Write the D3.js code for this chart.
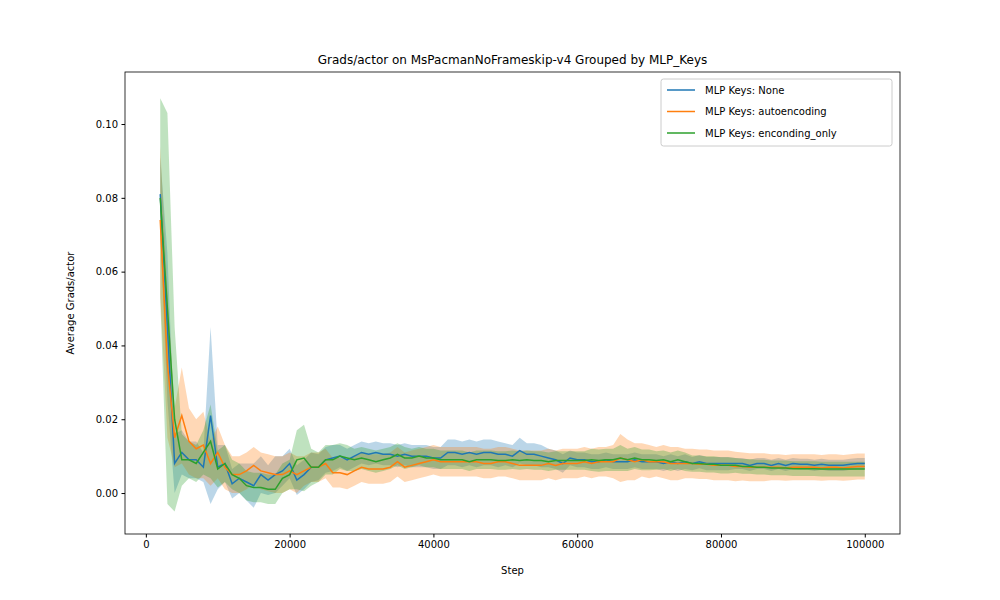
<!DOCTYPE html>
<html><head><meta charset="utf-8">
<script src="https://cdn.jsdelivr.net/npm/d3@7"></script>
<style>body{margin:0;background:#fff;font-family:"DejaVu Sans",sans-serif}</style>
</head><body><svg id="c" width="1000" height="600"></svg>
<script>
var steps = d3.range(2000, 100001, 1000);
var labels = ["MLP Keys: None", "MLP Keys: autoencoding", "MLP Keys: enconding_only"];
var colors = ["#1f77b4", "#ff7f0e", "#2ca02c"];

var meanNone = [0.081,0.045,0.008,0.011,0.009,0.009,0.007,0.021,0.007,0.008,0.0025,0.004,0.003,0.002,0.005,0.0035,0.005,0.006,0.008,0.0035,0.005,0.007,0.007,0.009,0.0095,0.010,0.009,0.010,0.011,0.0105,0.011,0.0105,0.0105,0.0100,0.0105,0.0100,0.0100,0.0100,0.0095,0.0095,0.011,0.011,0.0105,0.011,0.0105,0.011,0.011,0.0105,0.0105,0.010,0.0115,0.0105,0.0105,0.010,0.0095,0.009,0.008,0.0095,0.0090,0.0090,0.0085,0.0085,0.0090,0.0085,0.0085,0.0085,0.0090,0.0085,0.0085,0.0085,0.0080,0.0085,0.0080,0.0085,0.0080,0.0085,0.0080,0.0080,0.0080,0.0080,0.0080,0.0080,0.0075,0.0080,0.0080,0.0075,0.0080,0.0075,0.0080,0.0078,0.0078,0.0075,0.0078,0.0075,0.0075,0.0075,0.0078,0.0080,0.0080];
var meanAuto = [0.074,0.035,0.015,0.021,0.014,0.012,0.013,0.008,0.011,0.007,0.005,0.005,0.006,0.0075,0.006,0.0055,0.005,0.005,0.006,0.005,0.006,0.007,0.007,0.008,0.0055,0.0055,0.005,0.006,0.007,0.0065,0.0065,0.0065,0.007,0.0085,0.007,0.0075,0.008,0.0085,0.009,0.0085,0.0085,0.0085,0.0085,0.0085,0.0085,0.008,0.008,0.0085,0.0085,0.008,0.0075,0.0075,0.0075,0.0075,0.0080,0.0075,0.0080,0.0080,0.0080,0.0085,0.0080,0.0085,0.0085,0.0085,0.0095,0.0090,0.0085,0.0090,0.0085,0.0085,0.0085,0.0080,0.0080,0.0080,0.0080,0.0078,0.0078,0.0075,0.0075,0.0075,0.0072,0.0072,0.0070,0.0070,0.0070,0.0070,0.0070,0.0068,0.0070,0.0070,0.0070,0.0070,0.0068,0.0070,0.0070,0.0068,0.0070,0.0072,0.0072];
var meanEnc = [0.080,0.050,0.020,0.009,0.009,0.008,0.011,0.014,0.0065,0.008,0.005,0.004,0.002,0.0015,0.0015,0.001,0.001,0.004,0.005,0.009,0.0095,0.007,0.007,0.009,0.009,0.010,0.0095,0.009,0.0095,0.009,0.0085,0.0090,0.0095,0.0105,0.0095,0.0095,0.010,0.0095,0.0095,0.0090,0.0090,0.0090,0.0090,0.0085,0.0090,0.0090,0.0090,0.0088,0.0088,0.0090,0.0088,0.0090,0.0088,0.0088,0.0085,0.0088,0.0088,0.0088,0.0088,0.0088,0.0090,0.0088,0.0090,0.0090,0.0095,0.0090,0.0095,0.0090,0.0090,0.0088,0.0090,0.0085,0.0090,0.0085,0.0080,0.0080,0.0078,0.0078,0.0075,0.0075,0.0075,0.0072,0.0072,0.0070,0.0070,0.0068,0.0068,0.0068,0.0066,0.0066,0.0066,0.0066,0.0065,0.0065,0.0065,0.0065,0.0065,0.0065,0.0065];

var sdNone = [0.010,0.020,0.008,0.006,0.005,0.005,0.004,0.024,0.006,0.005,0.004,0.004,0.005,0.006,0.005,0.004,0.005,0.004,0.004,0.004,0.004,0.004,0.0035,0.0035,0.0035,0.003,0.003,0.003,0.003,0.003,0.003,0.003,0.003,0.003,0.003,0.003,0.003,0.003,0.003,0.003,0.0035,0.0035,0.0035,0.0035,0.0035,0.0035,0.0035,0.0035,0.003,0.003,0.0035,0.003,0.003,0.003,0.0025,0.0025,0.0025,0.002,0.002,0.002,0.002,0.002,0.002,0.002,0.002,0.002,0.002,0.002,0.002,0.002,0.002,0.002,0.002,0.002,0.0018,0.0018,0.0018,0.0018,0.0018,0.0018,0.0015,0.0015,0.0015,0.0015,0.0015,0.0015,0.0015,0.0015,0.0015,0.0015,0.0015,0.0015,0.0015,0.0015,0.0015,0.0015,0.0015,0.0015,0.0015];
var sdAuto = [0.020,0.020,0.008,0.013,0.009,0.008,0.009,0.006,0.007,0.006,0.005,0.005,0.005,0.005,0.005,0.005,0.005,0.005,0.005,0.005,0.004,0.004,0.004,0.004,0.004,0.004,0.004,0.004,0.004,0.004,0.004,0.004,0.004,0.004,0.004,0.004,0.004,0.004,0.004,0.004,0.004,0.004,0.004,0.004,0.004,0.004,0.004,0.004,0.004,0.004,0.004,0.004,0.004,0.004,0.004,0.004,0.004,0.004,0.004,0.004,0.004,0.004,0.004,0.0045,0.0065,0.0055,0.005,0.0045,0.0045,0.004,0.0045,0.0045,0.0045,0.004,0.004,0.004,0.004,0.004,0.004,0.004,0.004,0.0038,0.0038,0.0038,0.0038,0.0035,0.0035,0.0035,0.0035,0.0035,0.0035,0.0035,0.0035,0.0035,0.0035,0.0035,0.0035,0.0035,0.0035];
var sdEnc = [0.027,0.053,0.025,0.007,0.005,0.005,0.006,0.010,0.005,0.005,0.004,0.004,0.004,0.004,0.004,0.004,0.004,0.004,0.004,0.008,0.009,0.005,0.004,0.004,0.004,0.0035,0.0035,0.003,0.003,0.003,0.003,0.003,0.003,0.003,0.003,0.0025,0.0025,0.0025,0.0025,0.0025,0.0025,0.0025,0.0025,0.0025,0.0025,0.0025,0.0025,0.0025,0.0025,0.0025,0.0025,0.0025,0.0025,0.0025,0.0025,0.0025,0.0025,0.0025,0.0025,0.0025,0.003,0.003,0.003,0.003,0.0035,0.003,0.003,0.0028,0.0028,0.0025,0.0025,0.0025,0.0025,0.0025,0.0022,0.0022,0.0022,0.0022,0.0022,0.0022,0.002,0.002,0.002,0.002,0.002,0.002,0.002,0.002,0.002,0.002,0.002,0.002,0.002,0.002,0.002,0.002,0.002,0.002,0.002];

var means = [meanNone, meanAuto, meanEnc];
var sds = [sdNone, sdAuto, sdEnc];

var svg = d3.select("#c");
var L = 125, R = 900, T = 72, B = 534;
var x = d3.scaleLinear().domain([-2900, 104900]).range([L, R]);
var y = d3.scaleLinear().domain([-0.0111, 0.1141]).range([B, T]);

var g = svg.append("g");
var clip = svg.append("clipPath").attr("id","clp").append("rect")
    .attr("x",L).attr("y",T).attr("width",R-L).attr("height",B-T);
var plot = g.append("g").attr("clip-path","url(#clp)");

means.forEach(function(m, si){
    var pts = steps.map(function(s,i){ return {s:s, m:m[i], sd:sds[si][i]}; });
    plot.append("path").datum(pts)
        .attr("fill", colors[si]).attr("fill-opacity", 0.3)
        .attr("d", d3.area().x(function(d){return x(d.s);})
            .y0(function(d){return y(d.m-d.sd);}).y1(function(d){return y(d.m+d.sd);}));
});
means.forEach(function(m, si){
    var pts = steps.map(function(s,i){ return {s:s, m:m[i]}; });
    plot.append("path").datum(pts)
        .attr("fill","none").attr("stroke", colors[si]).attr("stroke-width", 1.5)
        .attr("d", d3.line().x(function(d){return x(d.s);}).y(function(d){return y(d.m);}));
});

var xa = g.append("g").attr("transform","translate(0,"+B+")")
    .call(d3.axisBottom(x).tickValues([0,20000,40000,60000,80000,100000]).tickFormat(d3.format("d")).tickSize(3.5).tickPadding(3.5));
var ya = g.append("g").attr("transform","translate("+L+",0)")
    .call(d3.axisLeft(y).tickValues([0,0.02,0.04,0.06,0.08,0.10]).tickFormat(d3.format(".2f")).tickSize(3.5).tickPadding(3.5));
[xa, ya].forEach(function(a){
    a.select(".domain").remove();
    a.selectAll("text").attr("font-size", 10).attr("font-family","DejaVu Sans").attr("fill","#000");
    a.selectAll("line").attr("stroke","#000");
});
g.append("rect").attr("x",L).attr("y",T).attr("width",R-L).attr("height",B-T)
    .attr("fill","none").attr("stroke","#000").attr("stroke-width",0.8);

svg.append("text").attr("x",(L+R)/2).attr("y",64).attr("text-anchor","middle")
    .attr("font-size",12).text("Grads/actor on MsPacmanNoFrameskip-v4 Grouped by MLP_Keys");
svg.append("text").attr("x",(L+R)/2).attr("y",574).attr("text-anchor","middle")
    .attr("font-size",10).text("Step");
svg.append("text").attr("transform","translate(74,"+((T+B)/2)+") rotate(-90)")
    .attr("text-anchor","middle").attr("font-size",10).text("Average Grads/actor");

var lg = svg.append("g").attr("transform","translate(661,79)");
lg.append("rect").attr("width",231).attr("height",67).attr("rx",2.5)
    .attr("fill","#fff").attr("fill-opacity",0.8).attr("stroke","#ccc");
labels.forEach(function(t,i){
    var yy = 11 + i*21.5;
    lg.append("line").attr("x1",6).attr("x2",34).attr("y1",yy).attr("y2",yy)
        .attr("stroke",colors[i]).attr("stroke-width",1.5);
    lg.append("text").attr("x",44).attr("y",yy+3.5).attr("font-size",10).text(t);
});
</script></body></html>
